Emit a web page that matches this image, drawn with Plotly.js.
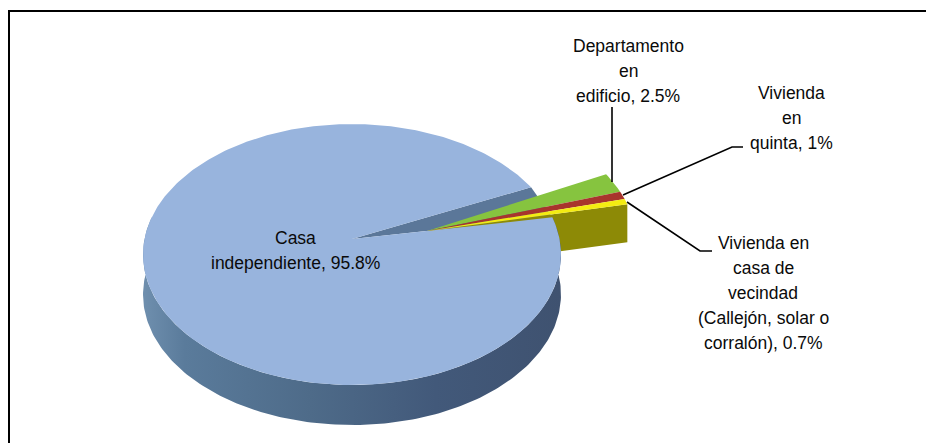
<!DOCTYPE html>
<html><head><meta charset="utf-8">
<script src="https://cdn.plot.ly/plotly-3.0.1.min.js"></script>
<style>html,body{margin:0;padding:0;background:#fff}</style></head>
<body><div id="chart" style="width:926px;height:443px"></div>
<script>
const categories = ["Casa independiente","Departamento en edificio","Vivienda en quinta","Vivienda en casa de vecindad (Callejón, solar o corralón)"];
const values = [95.8,2.5,1,0.7];
const topColors = ["#98b4dd","#86c43f","#a8352c","#f4ec12"];
const labelLines = [["Casa","independiente, 95.8%"],["Departamento","en","edificio, 2.5%"],["Vivienda","en","quinta, 1%"],["Vivienda en","casa de","vecindad","(Callejón, solar o","corralón), 0.7%"]];

const cx=352, cy=239, A=207.5, B=128.66, k=0.1188, depth=40;
const off=[75,-13], apexOff=[75,-8];
const startDeg=25;
const total=values.reduce((a,b)=>a+b,0);
function P(deg,dx=0,dy=0){const t=deg*Math.PI/180,w=1+k*Math.sin(t);return [cx+A*Math.cos(t)/w+dx, cy-B*Math.sin(t)/w+dy];}
function arc(a,b,dx=0,dy=0){const n=Math.max(2,Math.ceil(Math.abs(b-a)));const o=[];for(let i=0;i<=n;i++)o.push(P(a+(b-a)*i/n,dx,dy));return o;}
function poly(pts,fill,extra={}){const c=pts.concat([pts[0]]);return Object.assign({type:'scatter',mode:'lines',x:c.map(p=>p[0]),y:c.map(p=>p[1]),fill:'toself',fillcolor:fill,line:{width:0,color:fill},hoverinfo:'skip',showlegend:false},extra);}

const smallSpan=(total-values[0])/total*360;
const endDeg=startDeg-smallSpan;
const apex=[cx+apexOff[0],cy+apexOff[1]];
const traces=[];
// inner gap of the main slice
traces.push(poly([[cx,cy],P(startDeg),P(endDeg)],"#5b7799"));
// exploded slices: cut wall
traces.push(poly([apex,P(endDeg,off[0],off[1]),P(endDeg,off[0],off[1]+depth-2),[apex[0],apex[1]+depth-2]],"#8d8a06"));
// main slice: side wall
const wallTop=arc(170,360+endDeg), wallBot=arc(360+endDeg,170,0,depth);
traces.push(poly(wallTop.concat(wallBot),"#4f6a88",{fillgradient:{type:'horizontal',colorscale:[[0,'#6f8fae'],[0.1,'#5a7b9b'],[0.4,'#4e6b89'],[0.7,'#42597a'],[1,'#3f5270']]}}));
// main slice top
traces.push(poly([[cx,cy]].concat(arc(startDeg,endDeg+360)),topColors[0]));
// small slices top
let a=startDeg;
for(let i=1;i<values.length;i++){const b=a-values[i]/total*360;
  traces.push(poly([apex].concat(arc(a,b,off[0],off[1])),topColors[i]));a=b;}
// leader lines
const leaders=[[[612,107],[612,182]],[[743,147],[732,147],[623,195]],[[712,251],[700,251],[627,202]]];
leaders.forEach(l=>traces.push({type:'scatter',mode:'lines',x:l.map(p=>p[0]),y:l.map(p=>p[1]),line:{color:'#000',width:1.6},hoverinfo:'skip',showlegend:false}));

const font={family:'"Liberation Sans",Arial,sans-serif',size:17.5,color:'#0a0a0a'};
const labelPos=[[295,238],[628,46],[791,93],[763,243]];
const lineGap=25;
const annotations=[];
labelLines.forEach((l,i)=>l.forEach((t,j)=>annotations.push({xref:'x',yref:'y',x:labelPos[i][0],y:labelPos[i][1]+j*lineGap,text:t,showarrow:false,font:font,align:'center',xanchor:'center',yanchor:'middle'})));
const layout={width:926,height:443,margin:{l:0,r:0,t:0,b:0},paper_bgcolor:'#fff',plot_bgcolor:'#fff',
 xaxis:{range:[0,926],visible:false,fixedrange:true},yaxis:{range:[443,0],visible:false,fixedrange:true},
 annotations:annotations,showlegend:false,
 shapes:[{type:'line',xref:'x',yref:'y',x0:9,y0:11,x1:926,y1:11,line:{color:'#000',width:2}},
         {type:'line',xref:'x',yref:'y',x0:9,y0:10,x1:9,y1:443,line:{color:'#000',width:2}}]};
Plotly.newPlot('chart',traces,layout,{displayModeBar:false,staticPlot:true});
</script></body></html>
